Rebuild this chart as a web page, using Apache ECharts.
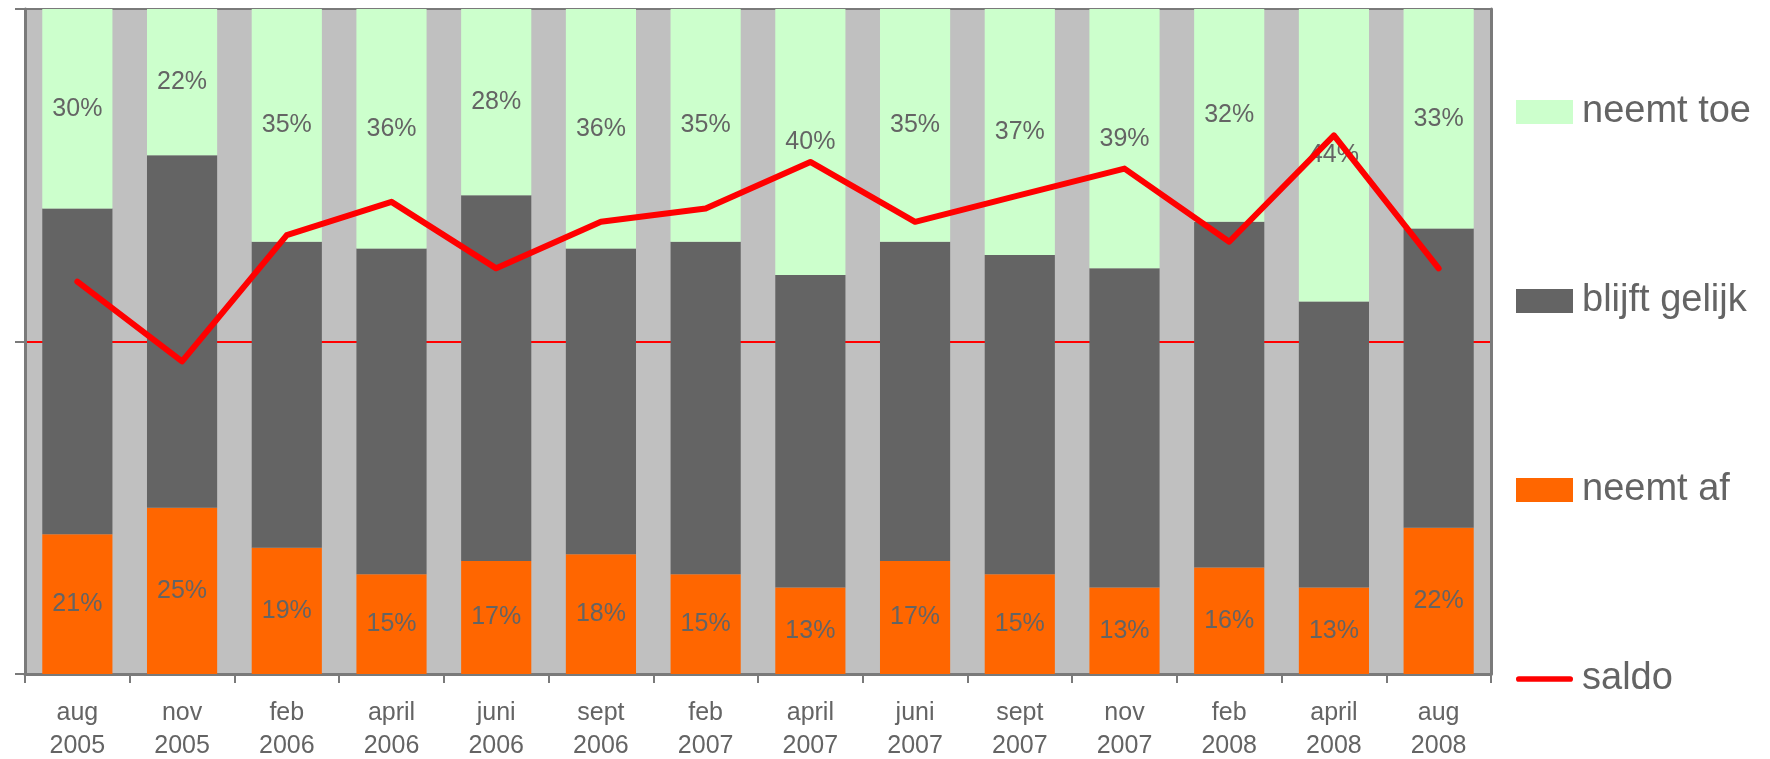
<!DOCTYPE html>
<html>
<head>
<meta charset="utf-8">
<script src="https://cdn.jsdelivr.net/npm/echarts@6/dist/echarts.min.js"></script>
<style>
  html, body { margin: 0; padding: 0; background: #fff; }
  #chart { width: 1770px; height: 759px; }
</style>
</head>
<body>
<div id="chart"></div>
<script>
var categories = ['aug\n2005', 'nov\n2005', 'feb\n2006', 'april\n2006', 'juni\n2006', 'sept\n2006', 'feb\n2007',
  'april\n2007', 'juni\n2007', 'sept\n2007', 'nov\n2007', 'feb\n2008', 'april\n2008', 'aug\n2008'];
var neemtAf = [21, 25, 19, 15, 17, 18, 15, 13, 17, 15, 13, 16, 13, 22];
var blijftGelijk = [49, 53, 46, 49, 55, 46, 50, 47, 48, 48, 48, 52, 43, 45];
var neemtToe = [30, 22, 35, 36, 28, 36, 35, 40, 35, 37, 39, 32, 44, 33];
var saldo = [9, -3, 16, 21, 11, 18, 20, 27, 18, 22, 26, 15, 31, 11];

var font = '"Liberation Sans", Arial, sans-serif';
var axisGray = '#7a7a7a';
var textGray = '#646464';

var chart = echarts.init(document.getElementById('chart'));

function pctLabel(show) {
  return {
    show: show,
    position: 'inside',
    formatter: '{c}%',
    color: textGray,
    fontSize: 25,
    fontFamily: font
  };
}

var option = {
  animation: false,
  grid: {
    left: 25, top: 9, width: 1466, height: 665,
    outerBoundsMode: 'none',
    show: true, backgroundColor: '#c0c0c0', borderWidth: 0
  },
  legend: {
    orient: 'vertical',
    left: 1511, top: 88,
    itemWidth: 57, itemHeight: 24, itemGap: 151,
    textStyle: { color: textGray, fontSize: 38, fontFamily: font, lineHeight: 38, padding: [0, 0, 0, 4] },
    data: [
      { name: 'neemt toe', icon: 'rect' },
      { name: 'blijft gelijk', icon: 'rect' },
      { name: 'neemt af', icon: 'rect' },
      {
        name: 'saldo',
        icon: 'path://M3,0 L57,0 A3,3 0 0 1 57,6 L3,6 A3,3 0 0 1 3,0 Z',
        itemStyle: { color: '#ff0000' }
      }
    ]
  },
  xAxis: [{
    type: 'category',
    data: categories,
    boundaryGap: true,
    axisLine: { lineStyle: { color: axisGray, width: 3 } },
    axisTick: { show: true, length: 9, lineStyle: { color: axisGray, width: 2 } },
    axisLabel: { color: textGray, fontSize: 25, fontFamily: font, lineHeight: 33, margin: 23, interval: 0 }
  }, {
    type: 'category',
    data: categories,
    position: 'top',
    axisLine: { onZero: false, lineStyle: { color: axisGray, width: 2 } },
    axisTick: { show: false },
    axisLabel: { show: false }
  }],
  yAxis: [{
    type: 'value',
    min: 0, max: 100, interval: 50,
    axisLine: { show: true, lineStyle: { color: axisGray, width: 3 } },
    axisTick: { show: true, length: 10, lineStyle: { color: axisGray, width: 2 } },
    axisLabel: { show: false },
    splitLine: { show: true, showMinLine: false, showMaxLine: false, lineStyle: { color: '#ff0000', width: 2 } }
  }, {
    type: 'value',
    min: -50, max: 50, interval: 50,
    position: 'right',
    axisLine: { show: true, onZero: false, lineStyle: { color: axisGray, width: 3 } },
    axisTick: { show: false },
    axisLabel: { show: false },
    splitLine: { show: false }
  }],
  series: [
    {
      name: 'neemt af', type: 'bar', stack: 'tot', data: neemtAf,
      barCategoryGap: '33%',
      itemStyle: { color: '#ff6600' },
      label: pctLabel(true)
    },
    {
      name: 'blijft gelijk', type: 'bar', stack: 'tot', data: blijftGelijk,
      itemStyle: { color: '#646464' },
      label: pctLabel(false)
    },
    {
      name: 'neemt toe', type: 'bar', stack: 'tot', data: neemtToe,
      itemStyle: { color: '#ccffcc' },
      label: pctLabel(true)
    },
    {
      name: 'saldo', type: 'line', yAxisIndex: 1, data: saldo,
      z: 5,
      symbol: 'none',
      itemStyle: { color: '#ff0000' },
      lineStyle: { color: '#ff0000', width: 6, cap: 'round', join: 'round' }
    }
  ]
};

chart.setOption(option);
</script>
</body>
</html>
